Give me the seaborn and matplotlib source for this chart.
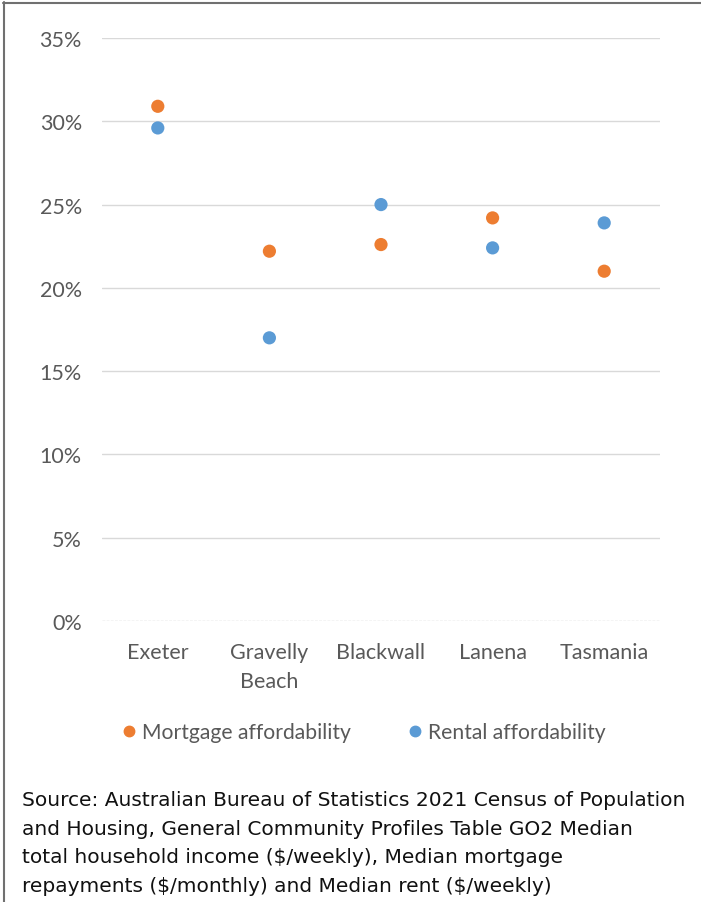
import matplotlib
matplotlib.use("Agg")
import matplotlib.pyplot as plt
from matplotlib.lines import Line2D
from matplotlib.ticker import FixedLocator, PercentFormatter
import seaborn as sns
import pandas as pd

categories = ["Exeter", "Gravelly\nBeach", "Blackwall", "Lanena", "Tasmania"]
mortgage = [0.309, 0.222, 0.226, 0.242, 0.210]
rental = [0.296, 0.170, 0.250, 0.224, 0.239]
series_names = ["Mortgage affordability", "Rental affordability"]
yticks = [0, 0.05, 0.10, 0.15, 0.20, 0.25, 0.30, 0.35]
source_text = ("Source: Australian Bureau of Statistics 2021 Census of Population\n"
               "and Housing, General Community Profiles Table GO2 Median\n"
               "total household income (\\$/weekly), Median mortgage\n"
               "repayments (\\$/monthly) and Median rent (\\$/weekly)")

df = pd.DataFrame({
    "Area": categories * 2,
    "Value": mortgage + rental,
    "Series": [series_names[0]] * len(categories) + [series_names[1]] * len(categories),
})

sns.set_style("white")
plt.rcParams["font.family"] = ["Lato", "DejaVu Sans"]

W, H = 701, 903
fig = plt.figure(figsize=(W / 100, H / 100), dpi=100)
ax = fig.add_axes([102 / W, 1 - 622 / H, (660 - 102) / W, (622 - 39) / H])

palette = {series_names[0]: "#ED7D31", series_names[1]: "#5B9BD5"}
sns.stripplot(data=df, x="Area", y="Value", hue="Series", palette=palette,
              jitter=False, dodge=False, size=9.5, linewidth=0, ax=ax,
              order=categories, hue_order=series_names, zorder=3)

ax.set_xlim(-0.5, len(categories) - 0.5)
ax.set_ylim(0, 0.35)
ax.yaxis.set_major_locator(FixedLocator(yticks))
ax.yaxis.set_major_formatter(PercentFormatter(1.0, decimals=0))
for y in yticks[1:]:
    ax.axhline(y, color="#D9D9D9", lw=1.0, zorder=1)
ax.axhline(0, color="#C8C8C8", lw=1.0, ls=(0, (2, 1)), zorder=1)

for s in ax.spines.values():
    s.set_visible(False)

ax.set_xlabel("")
ax.set_ylabel("")
ax.tick_params(axis="y", length=0, pad=14.5, labelsize=15.5, labelcolor="#595959")
ax.tick_params(axis="x", which="major", length=0, pad=15, labelsize=15.5, labelcolor="#595959")
ax.set_xticks([i - 0.5 for i in range(len(categories) + 1)], minor=True)
ax.tick_params(axis="x", which="minor", length=5, color="#C8C8C8", width=1)
for lab in ax.get_xticklabels():
    lab.set_linespacing(1.55)

ax.get_legend().remove()
handles = [Line2D([], [], marker="o", ls="", color=palette[n], markersize=7.5) for n in series_names]
fig.legend(handles, series_names, loc="center", bbox_to_anchor=(362 / W, 1 - 733 / H),
           ncol=2, frameon=False, fontsize=15.2, labelcolor="#595959",
           handletextpad=0.15, columnspacing=2.5, handlelength=1.0)

fig.text(22 / W, 1 - 791 / H, source_text, ha="left", va="top", fontsize=14.5,
         color="#111111", linespacing=1.64, family="DejaVu Sans")

# border (top and left only)
fig.add_artist(Line2D([3 / W, 1], [1 - 3.5 / H, 1 - 3.5 / H], color="#707070", lw=1.5, transform=fig.transFigure))
fig.add_artist(Line2D([3.5 / W, 3.5 / W], [0, 1 - 3 / H], color="#707070", lw=1.5, transform=fig.transFigure))

fig.savefig("out.png", dpi=100, facecolor="white")
